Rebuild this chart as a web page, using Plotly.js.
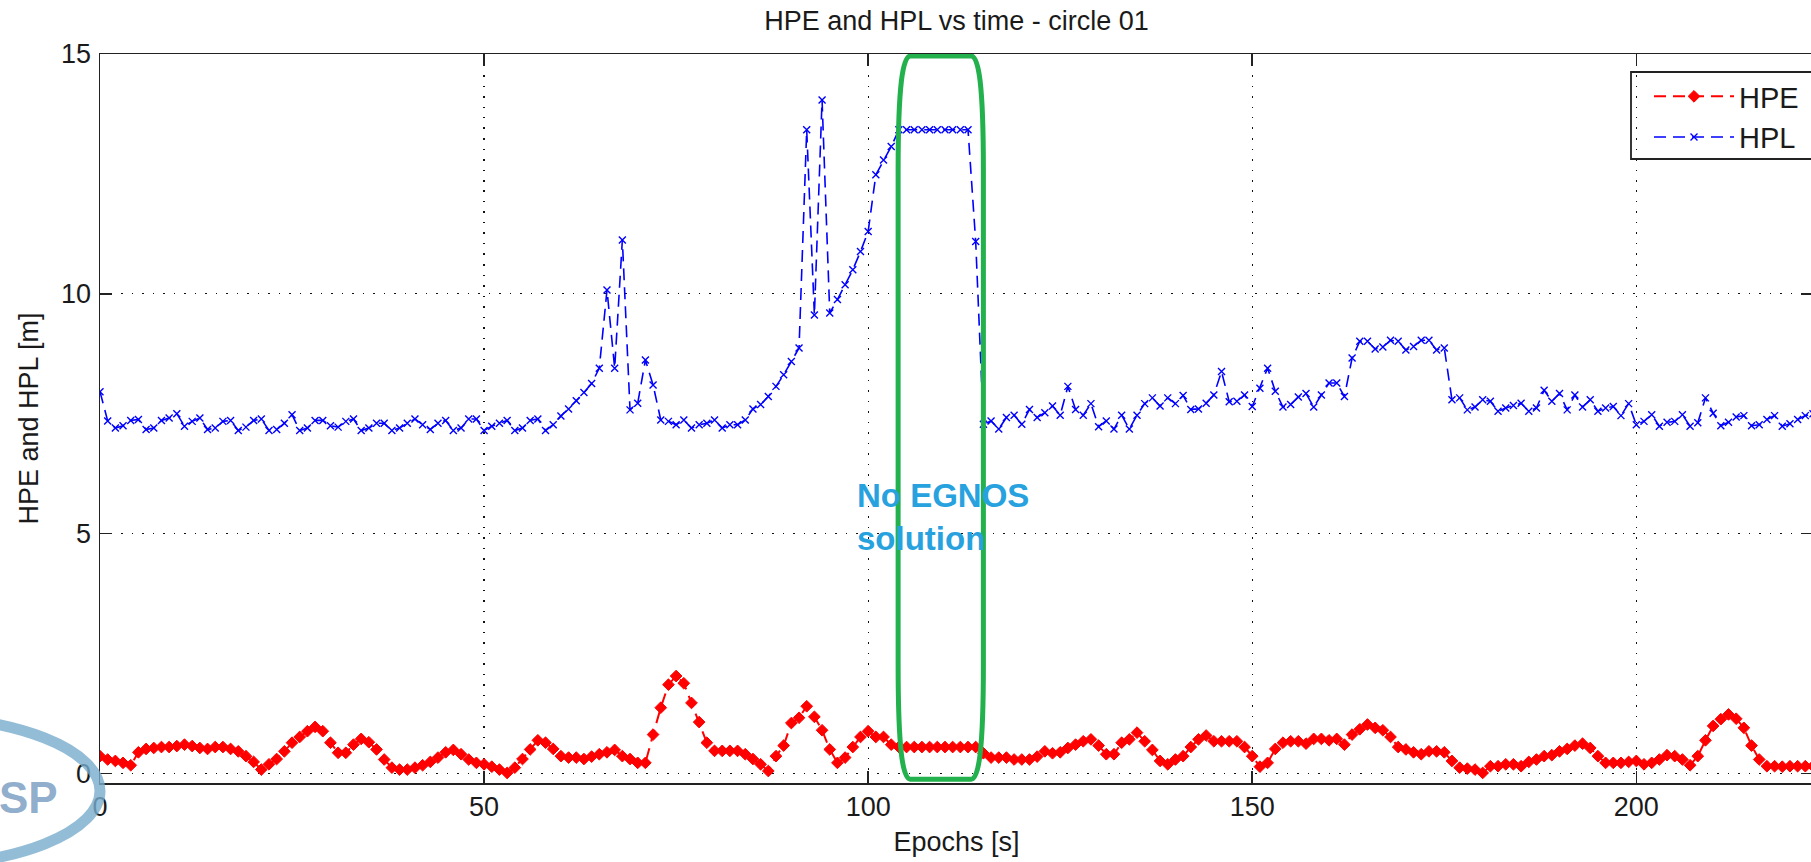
<!DOCTYPE html>
<html>
<head>
<meta charset="utf-8">
<script src="https://cdn.plot.ly/plotly-3.0.1.min.js"></script>
<style>
html,body{margin:0;padding:0;background:#fff;overflow:hidden;}
#chart{width:1813px;height:862px;}
</style>
</head>
<body>
<div id="chart"></div>
<script>
// ---- data ----
const hpe = [
0.36,0.29,0.26,0.22,0.17,0.44,0.51,0.53,0.55,0.55,
0.57,0.60,0.57,0.53,0.51,0.55,0.55,0.51,0.46,0.36,
0.24,0.08,0.19,0.30,0.46,0.64,0.76,0.88,0.97,0.88,
0.64,0.43,0.43,0.60,0.72,0.65,0.50,0.29,0.12,0.08,
0.08,0.12,0.17,0.24,0.33,0.44,0.49,0.40,0.29,0.22,
0.19,0.14,0.08,0.01,0.12,0.30,0.50,0.69,0.64,0.51,
0.36,0.33,0.33,0.30,0.35,0.40,0.44,0.49,0.36,0.30,
0.22,0.22,0.81,1.37,1.85,2.03,1.88,1.47,1.07,0.64,
0.47,0.47,0.47,0.47,0.40,0.30,0.19,0.05,0.36,0.58,
1.05,1.16,1.40,1.18,0.90,0.50,0.22,0.33,0.55,0.76,
0.88,0.76,0.76,0.60,0.55,0.55,0.55,0.55,0.55,0.55,
0.55,0.55,0.55,0.55,0.55,0.42,0.33,0.33,0.33,0.29,
0.29,0.29,0.35,0.46,0.42,0.44,0.53,0.60,0.67,0.71,
0.58,0.40,0.40,0.64,0.71,0.85,0.67,0.49,0.26,0.19,
0.29,0.36,0.55,0.71,0.79,0.67,0.67,0.67,0.67,0.55,
0.36,0.14,0.22,0.51,0.64,0.67,0.67,0.62,0.72,0.72,
0.69,0.72,0.60,0.81,0.92,1.02,0.95,0.90,0.76,0.55,
0.50,0.44,0.40,0.46,0.46,0.44,0.26,0.12,0.10,0.08,
0.01,0.15,0.15,0.19,0.19,0.15,0.24,0.29,0.36,0.38,
0.46,0.51,0.58,0.62,0.53,0.36,0.22,0.22,0.22,0.24,
0.26,0.19,0.22,0.29,0.38,0.36,0.29,0.17,0.36,0.69,
0.99,1.13,1.23,1.14,0.95,0.58,0.29,0.15,0.15,0.14,
0.15,0.15,0.15,0.15
];
const hpl = [
7.96,7.35,7.20,7.25,7.36,7.38,7.17,7.20,7.36,7.41,
7.50,7.24,7.34,7.41,7.17,7.20,7.34,7.36,7.15,7.22,
7.36,7.39,7.15,7.17,7.30,7.48,7.15,7.20,7.36,7.36,
7.25,7.22,7.34,7.39,7.15,7.20,7.30,7.30,7.15,7.20,
7.30,7.39,7.27,7.17,7.30,7.36,7.15,7.20,7.39,7.39,
7.15,7.24,7.30,7.36,7.15,7.20,7.36,7.39,7.15,7.27,
7.45,7.60,7.77,7.94,8.13,8.45,10.08,8.45,11.12,7.58,
7.72,8.62,8.10,7.37,7.34,7.27,7.37,7.20,7.27,7.30,
7.37,7.20,7.27,7.27,7.37,7.60,7.69,7.86,8.07,8.31,
8.59,8.87,13.42,9.56,14.04,9.60,9.88,10.19,10.50,10.88,
11.30,12.48,12.79,13.07,13.42,13.42,13.42,13.42,13.42,13.42,
13.42,13.42,13.42,13.42,11.09,7.28,7.35,7.18,7.42,7.47,
7.28,7.59,7.42,7.52,7.66,7.47,8.07,7.59,7.47,7.71,
7.23,7.35,7.18,7.47,7.18,7.47,7.71,7.83,7.66,7.83,
7.71,7.88,7.59,7.60,7.72,7.89,8.38,7.75,7.76,7.89,
7.65,8.03,8.45,7.97,7.64,7.69,7.85,7.92,7.64,7.89,
8.14,8.14,7.86,8.66,9.01,9.01,8.85,8.89,9.03,9.01,
8.83,8.90,9.03,9.03,8.83,8.87,7.79,7.83,7.58,7.64,
7.79,7.76,7.55,7.62,7.67,7.72,7.55,7.62,7.99,7.76,
7.92,7.58,7.89,7.64,7.79,7.55,7.62,7.65,7.46,7.71,
7.27,7.34,7.48,7.24,7.32,7.34,7.48,7.24,7.31,7.83,
7.51,7.25,7.32,7.43,7.46,7.25,7.27,7.38,7.46,7.24,
7.29,7.38,7.46,7.50
];
const epochs = hpe.map((_, i) => i);          // one epoch per second
const xTicks = [0, 50, 100, 150, 200];
const yTicks = [0, 5, 10, 15];
const seriesNames = ["HPE", "HPL"];
const chartTitle = "HPE and HPL vs time - circle 01";
const xTitle = "Epochs [s]";
const yTitle = "HPE and HPL [m]";
const gapText = "No EGNOS<br>solution";
const gapStart = 103.9, gapEnd = 115.0;     // epochs without EGNOS solution (circled)

// ---- layout helpers ----
const FONT = '"Liberation Sans", Arial, sans-serif';
const TXT = '#1a1a1a';
const W = 1813, H = 862, ML = 100, MR = 0, MT = 54, MB = 79;
const pw = W - ML - MR, ph = H - MT - MB;
const px2paperX = X => (X - ML) / pw;
const px2paperY = Y => (H - MB - Y) / ph;

// rounded outline around the outage (data coords)
const gx0 = gapStart, gx1 = gapEnd, gy0 = -0.12, gy1 = 14.96;
const rx = 1.6, ry = 2.4;
const ringPath =
  `M ${gx0},${gy1-ry} C ${gx0},${gy1-0.6} ${gx0+0.6},${gy1} ${gx0+rx},${gy1} ` +
  `L ${gx1-rx},${gy1} C ${gx1-0.6},${gy1} ${gx1},${gy1-0.6} ${gx1},${gy1-ry} ` +
  `L ${gx1},${gy0+ry} C ${gx1},${gy0+0.6} ${gx1-0.6},${gy0} ${gx1-rx},${gy0} ` +
  `L ${gx0+rx},${gy0} C ${gx0+0.6},${gy0} ${gx0},${gy0+0.6} ${gx0},${gy0+ry} Z`;

const traces = [
  {
    x: epochs, y: hpe, name: seriesNames[0], type: 'scatter', mode: 'lines+markers',
    line: {color: '#ff0000', width: 2, dash: '12px,7px'},
    marker: {symbol: 'diamond', size: 9, color: '#ff0000', line: {color: '#ff0000', width: 1}}
  },
  {
    x: epochs, y: hpl, name: seriesNames[1], type: 'scatter', mode: 'lines+markers',
    line: {color: '#0000ff', width: 1.6, dash: '12px,7px'},
    marker: {symbol: 'x-thin-open', size: 7, color: '#0000ff', line: {color: '#0000ff', width: 1.4}}
  }
];

const axisCommon = {
  showline: true, linecolor: '#222', linewidth: 1.5, mirror: 'ticks',
  ticks: 'inside', ticklen: 12, tickwidth: 1.5, tickcolor: '#222',
  showgrid: true, gridcolor: '#111', gridwidth: 1.3, griddash: '1.5px,9px',
  zeroline: false, tickfont: {family: FONT, size: 27, color: TXT}
};

const layout = {
  width: W, height: H,
  margin: {l: ML, r: MR, t: MT, b: MB, pad: 0},
  paper_bgcolor: '#fff', plot_bgcolor: '#fff',
  font: {family: FONT, color: TXT},
  showlegend: true,
  title: {text: chartTitle, font: {family: FONT, size: 27, color: TXT},
          x: 0.5, xref: 'paper', xanchor: 'center', y: 1 - 21 / H, yref: 'container', yanchor: 'middle'},
  xaxis: Object.assign({}, axisCommon, {
    range: [0, 223], tickvals: xTicks, ticklabelstandoff: -1,
    title: {text: xTitle, font: {family: FONT, size: 27, color: TXT}, standoff: 11}
  }),
  yaxis: Object.assign({}, axisCommon, {
    range: [-0.2, 15], tickvals: yTicks, ticklabelstandoff: 2,
    title: {text: yTitle, font: {family: FONT, size: 27, color: TXT}, standoff: 14}
  }),
  legend: {
    x: px2paperX(1649), y: px2paperY(71), xanchor: 'left', yanchor: 'top',
    bgcolor: 'rgba(0,0,0,0)', borderwidth: 0,
    font: {family: FONT, size: 29, color: TXT}, itemwidth: 80, tracegroupgap: 0
  },
  shapes: [
    // legend frame
    {type: 'rect', xref: 'paper', yref: 'paper', layer: 'above',
     x0: px2paperX(1631), x1: px2paperX(1830), y0: px2paperY(159), y1: px2paperY(72),
     fillcolor: 'rgba(0,0,0,0)', line: {color: '#222', width: 1.8}},
    {type: 'path', xref: 'x', yref: 'y', path: ringPath, layer: 'above',
     line: {color: '#22b14c', width: 5}},
    // partial logo ring at bottom-left
    {type: 'circle', xref: 'paper', yref: 'paper', layer: 'above',
     x0: px2paperX(-280), x1: px2paperX(100), y0: px2paperY(866), y1: px2paperY(716),
     line: {color: 'rgba(120,172,205,0.8)', width: 11}}
  ],
  annotations: [
    {text: gapText, xref: 'x', yref: 'y', x: 98.3, y: 5.35, xanchor: 'left', yanchor: 'middle',
     align: 'left', showarrow: false,
     font: {family: FONT, size: 33, color: '#27a2de', weight: 'bold'}},
    {text: '<b>SP</b>', xref: 'paper', yref: 'paper', x: px2paperX(60), y: px2paperY(797),
     xanchor: 'right', yanchor: 'middle', showarrow: false,
     font: {family: FONT, size: 44, color: 'rgba(125,160,195,0.85)'}}
  ]
};

Plotly.newPlot('chart', traces, layout, {displayModeBar: false, staticPlot: true});
</script>
</body>
</html>
